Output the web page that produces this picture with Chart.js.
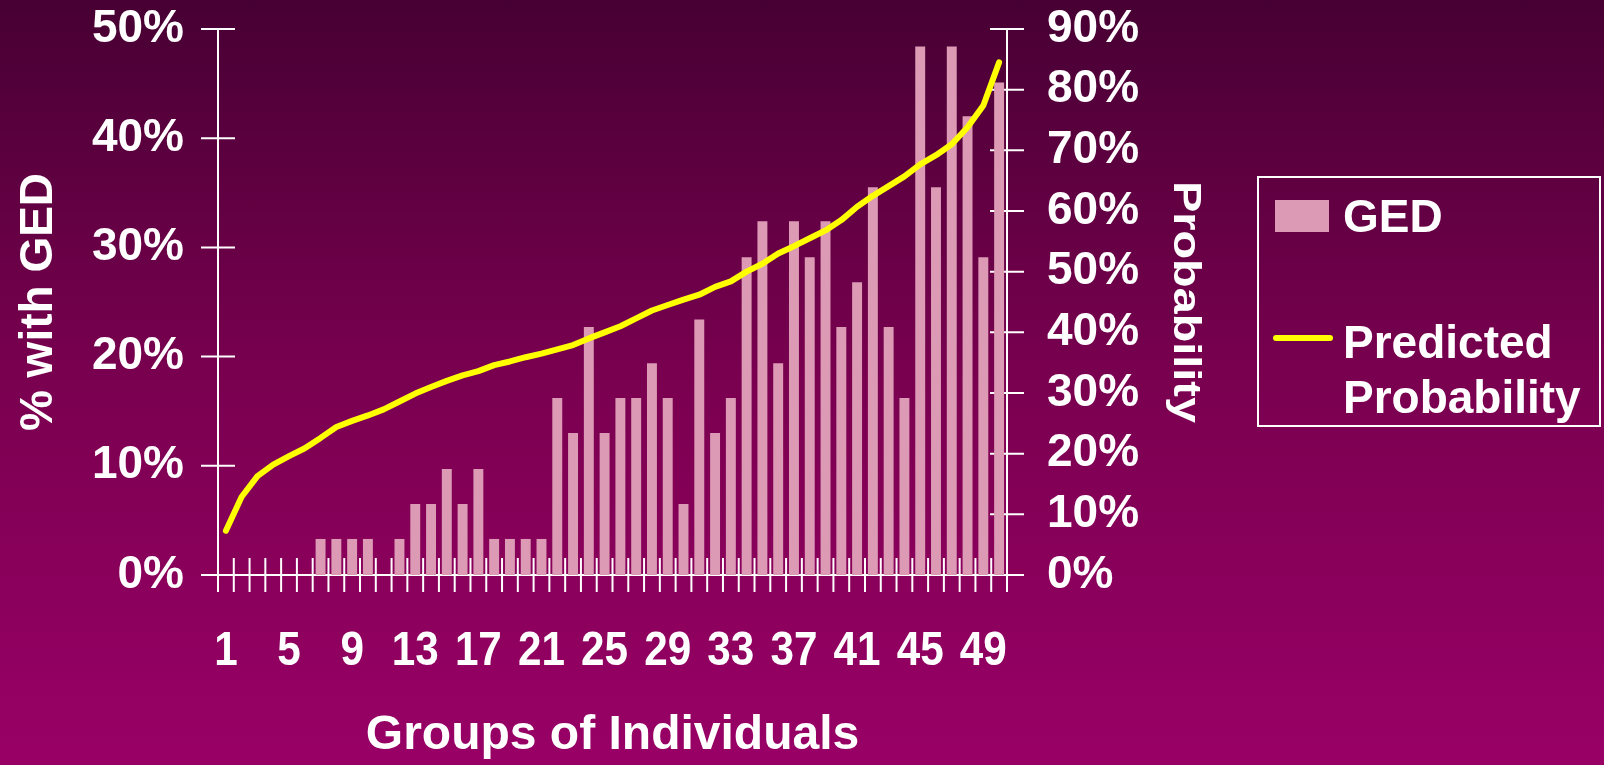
<!DOCTYPE html>
<html>
<head>
<meta charset="utf-8">
<script src="https://cdn.jsdelivr.net/npm/chart.js@4/dist/chart.umd.min.js"></script>
<style>
  html, body { margin:0; padding:0; width:1604px; height:765px; overflow:hidden;
    background: linear-gradient(to bottom, #470033 0%, #7a0050 50%, #990066 100%); }
  canvas { display:block; }
</style>
</head>
<body>
<canvas id="c" width="1604" height="765"></canvas>
<script>
// ---- data ----
const categories = ['1','2','3','4','5','6','7','8','9','10','11','12','13','14','15','16','17','18','19','20',
  '21','22','23','24','25','26','27','28','29','30','31','32','33','34','35','36','37','38','39','40',
  '41','42','43','44','45','46','47','48','49','50'];
const shownXLabels = ['1','5','9','13','17','21','25','29','33','37','41','45','49'];
const gedPercent = [0,0,0,0,0,0,3.3,3.3,3.3,3.3,
  0,3.3,6.5,6.5,9.7,6.5,9.7,3.3,3.3,3.3,
  3.3,16.2,13.0,22.7,13.0,16.2,16.2,19.4,16.2,6.5,
  23.4,13.0,16.2,29.1,32.4,19.4,32.4,29.1,32.4,22.7,
  26.8,35.5,22.7,16.2,48.4,35.5,48.4,42.0,29.1,45.1];
const predictedProbability = [7.3,12.9,16.3,18.2,19.6,20.9,22.6,24.4,25.4,26.3,
  27.3,28.6,29.9,31.0,32.0,32.9,33.6,34.6,35.2,35.9,
  36.5,37.2,37.9,39.0,40.0,41.0,42.3,43.6,44.5,45.4,
  46.2,47.5,48.4,50.0,51.3,53.0,54.2,55.5,56.8,58.5,
  60.7,62.5,64.1,65.7,67.7,69.2,71.0,73.8,77.4,84.5];
const leftTicks = [0,10,20,30,40,50];
const rightTicks = [0,10,20,30,40,50,60,70,80,90];

const FONT = "'Liberation Sans', Arial, sans-serif";

// cross-style axis lines and tick marks drawn from the chart's scales
const axisPlugin = {
  id: 'crossAxes',
  beforeDatasetsDraw(chart) {
    const {ctx, chartArea: a, scales} = chart;
    const L = 17;
    ctx.save();
    ctx.strokeStyle = '#ffffff';
    ctx.lineWidth = 2;
    const seg = (x1,y1,x2,y2) => { ctx.beginPath(); ctx.moveTo(x1,y1); ctx.lineTo(x2,y2); ctx.stroke(); };
    seg(a.left, scales.y.getPixelForValue(leftTicks[leftTicks.length-1]), a.left, a.bottom + L);
    seg(a.right, scales.y2.getPixelForValue(rightTicks[rightTicks.length-1]), a.right, a.bottom + L);
    seg(a.left - L, a.bottom, a.right + L, a.bottom);
    leftTicks.forEach(v => { const y = scales.y.getPixelForValue(v); seg(a.left - L, y, a.left + L, y); });
    rightTicks.forEach(v => { const y = scales.y2.getPixelForValue(v); seg(a.right - L, y, a.right + L, y); });
    for (let i = 0; i <= categories.length; i++) {
      const x = scales.x.getPixelForValue(i - 0.5);
      seg(x, a.bottom - L, x, a.bottom + L);
    }
    ctx.restore();
  },
  afterDraw(chart) {
    const {ctx, chartArea: a, scales} = chart;
    // condensed category labels, positioned by the x scale
    ctx.save();
    ctx.fillStyle = '#ffffff';
    ctx.font = 'bold 48px ' + FONT;
    ctx.textAlign = 'center';
    ctx.textBaseline = 'alphabetic';
    categories.forEach((c, i) => {
      if (!shownXLabels.includes(c)) return;
      const x = scales.x.getPixelForValue(i);
      ctx.save();
      ctx.translate(x, a.bottom + 90);
      ctx.scale(0.88, 1);
      ctx.fillText(c, 0, 0);
      ctx.restore();
    });
    // stretched right-axis title (reads top to bottom)
    const t = chart.options.scales.y2.title;
    ctx.save();
    ctx.font = 'bold 39px ' + FONT;
    ctx.textAlign = 'center';
    ctx.textBaseline = 'alphabetic';
    ctx.translate(1174, (a.top + a.bottom) / 2);
    ctx.rotate(Math.PI / 2);
    ctx.scale(1.2, 1);
    ctx.fillText(t.text, 0, 0);
    ctx.restore();
    ctx.restore();
  }
};

// boxed legend at right
const legendPlugin = {
  id: 'boxLegend',
  afterDraw(chart) {
    const ctx = chart.ctx;
    const ds = chart.data.datasets;
    const bar = ds.find(d => d.type === 'bar');
    const line = ds.find(d => d.type === 'line');
    ctx.save();
    ctx.strokeStyle = '#ffffff';
    ctx.lineWidth = 2;
    ctx.strokeRect(1258, 177, 342, 249);
    ctx.fillStyle = bar.backgroundColor;
    ctx.fillRect(1275, 200, 54, 32);
    ctx.strokeStyle = line.borderColor;
    ctx.lineWidth = 6;
    ctx.lineCap = 'round';
    ctx.beginPath(); ctx.moveTo(1276, 338); ctx.lineTo(1330, 338); ctx.stroke();
    ctx.fillStyle = '#ffffff';
    ctx.font = 'bold 46px ' + FONT;
    ctx.textAlign = 'left';
    ctx.textBaseline = 'alphabetic';
    ctx.fillText(bar.label, 1343, 232);
    const parts = line.label.split(' ');
    ctx.fillText(parts[0], 1343, 358);
    ctx.fillText(parts[1], 1343, 413);
    ctx.restore();
  }
};

new Chart(document.getElementById('c').getContext('2d'), {
  data: {
    labels: categories,
    datasets: [
      { type: 'line', label: 'Predicted Probability', data: predictedProbability, yAxisID: 'y2',
        borderColor: '#ffff00', borderWidth: 6, pointRadius: 0, tension: 0,
        borderCapStyle: 'round', borderJoinStyle: 'round', order: 0 },
      { type: 'bar', label: 'GED', data: gedPercent, yAxisID: 'y',
        backgroundColor: '#dc9ab4', barPercentage: 0.63, categoryPercentage: 1.0, order: 1 }
    ]
  },
  options: {
    responsive: false,
    animation: false,
    devicePixelRatio: 1,
    layout: { padding: { left: 0, right: 382, top: 29, bottom: 0 }, autoPadding: false },
    plugins: { legend: { display: false }, tooltip: { enabled: false }, title: { display: false } },
    scales: {
      x: {
        type: 'category',
        position: 'bottom',
        grid: { display: false, drawTicks: false, tickLength: 0 },
        border: { display: false },
        ticks: { display: false },
        title: { display: true, text: 'Groups of Individuals', color: '#ffffff',
          font: { family: FONT, size: 48, weight: 'bold' }, padding: { top: 0, bottom: 0 } },
        afterFit(s) { s.height = 190; }
      },
      y: {
        position: 'left', min: 0, max: 50,
        grid: { display: false, drawTicks: true, tickLength: 34 },
        border: { display: false },
        ticks: { stepSize: 10, padding: 0, autoSkip: false, color: '#ffffff',
          font: { family: FONT, size: 46, weight: 'bold', lineHeight: 1 },
          callback: v => v + '%' },
        title: { display: true, text: '% with GED', color: '#ffffff',
          font: { family: FONT, size: 46, weight: 'bold' }, padding: { top: 12, bottom: 0 } },
        afterFit(s) { s.width = 218; }
      },
      y2: {
        position: 'right', min: 0, max: 90,
        grid: { display: false, drawTicks: true, tickLength: 40 },
        border: { display: false },
        ticks: { stepSize: 10, padding: 0, autoSkip: false, color: '#ffffff',
          font: { family: FONT, size: 46, weight: 'bold', lineHeight: 1 },
          callback: v => v + '%' },
        title: { display: false, text: 'Probability', color: '#ffffff' },
        afterFit(s) { s.width = 215; }
      }
    }
  },
  plugins: [axisPlugin, legendPlugin]
});
</script>
</body>
</html>
